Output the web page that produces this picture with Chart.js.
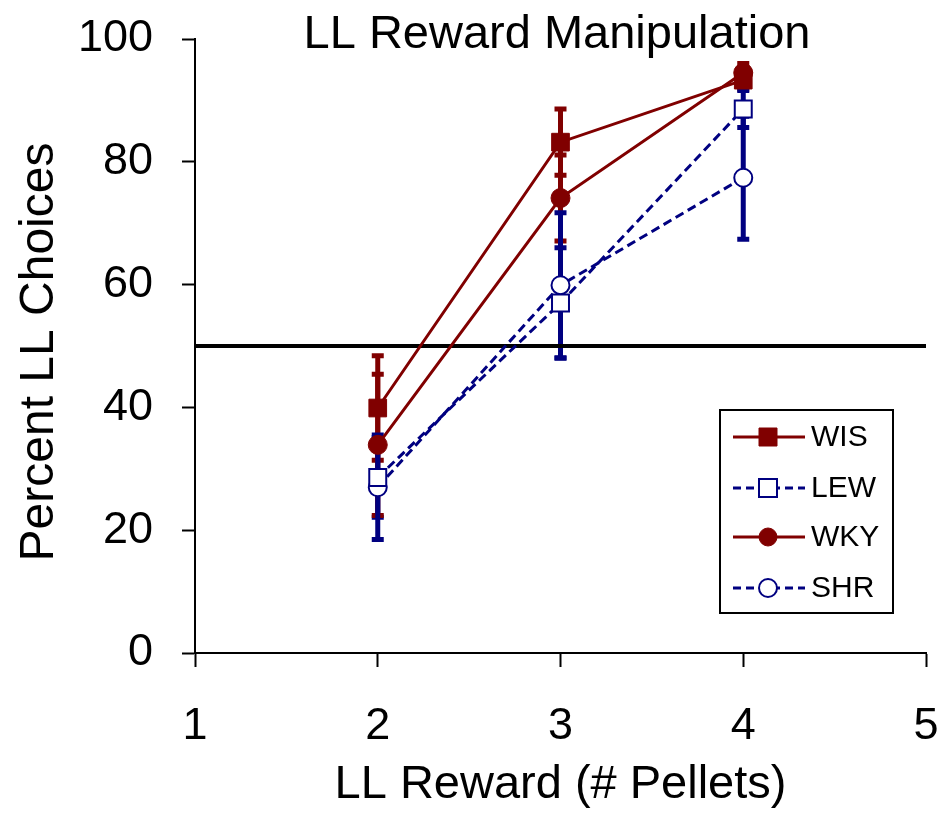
<!DOCTYPE html>
<html>
<head>
<meta charset="utf-8">
<script src="https://cdn.jsdelivr.net/npm/chart.js@4.4.0/dist/chart.umd.min.js"></script>
<style>
  html, body { margin: 0; padding: 0; background: #fff; }
  #wrap { width: 943px; height: 815px; }
</style>
</head>
<body>
<div id="wrap"><canvas id="chart"></canvas></div>
<script>
// ===== データ =====
const pellets = [2, 3, 4];
const xTicks = [1, 2, 3, 4, 5];
const yTicks = [0, 20, 40, 60, 80, 100];
const chanceLevel = 50;

const wisMean = [39.9, 83.2, 93.3];
const wisErr  = [8.5, 5.4, 1.5];
const lewMean = [28.6, 57.0, 88.6];
const lewErr  = [6.5, 9.0, 3.0];
const wkyMean = [33.9, 74.1, 94.5];
const wkyErr  = [11.5, 7.0, 1.5];
const shrMean = [27.0, 59.9, 77.4];
const shrErr  = [8.5, 11.8, 10.0];

const RED = '#800000';
const BLUE = '#000080';
const FONT = "'Liberation Sans', Arial, sans-serif";

const toPoints = arr => arr.map((v, i) => ({ x: pellets[i], y: v }));

const series = [
  { label: 'WIS', mean: wisMean, err: wisErr, color: RED,  dashed: false, style: 'rect',   filled: true,  r: 12.5 },
  { label: 'LEW', mean: lewMean, err: lewErr, color: BLUE, dashed: true,  style: 'rect',   filled: false, r: 12 },
  { label: 'WKY', mean: wkyMean, err: wkyErr, color: RED,  dashed: false, style: 'circle', filled: true,  r: 9.5 },
  { label: 'SHR', mean: shrMean, err: shrErr, color: BLUE, dashed: true,  style: 'circle', filled: false, r: 9 },
];

// ===== エラーバー =====
const errorBars = {
  id: 'errorBars',
  beforeDatasetsDraw(chart) {
    const { ctx, scales: { x, y } } = chart;
    ctx.save();
    ctx.lineCap = 'butt';
    series.forEach(s => {
      ctx.strokeStyle = s.color;
      ctx.lineWidth = 5;
      s.mean.forEach((m, i) => {
        const px = x.getPixelForValue(pellets[i]);
        const top = y.getPixelForValue(m + s.err[i]);
        const bot = y.getPixelForValue(m - s.err[i]);
        ctx.beginPath();
        ctx.moveTo(px, top); ctx.lineTo(px, bot);
        ctx.moveTo(px - 6, top); ctx.lineTo(px + 6, top);
        ctx.moveTo(px - 6, bot); ctx.lineTo(px + 6, bot);
        ctx.stroke();
      });
    });
    ctx.restore();
  }
};

// ===== タイトル・縦軸ラベル・凡例 =====
const overlay = {
  id: 'overlay',
  afterDraw(chart) {
    const { ctx } = chart;
    ctx.save();
    ctx.fillStyle = '#000';
    ctx.font = `47px ${FONT}`;
    ctx.textAlign = 'center';
    ctx.textBaseline = 'alphabetic';
    ctx.fillText('LL Reward Manipulation', 557, 48);

    // 縦軸タイトル
    ctx.save();
    ctx.translate(53, 352);
    ctx.rotate(-Math.PI / 2);
    ctx.font = `48px ${FONT}`;
    ctx.fillText('Percent LL Choices', 0, 0);
    ctx.restore();

    // 凡例
    ctx.lineWidth = 2;
    ctx.strokeStyle = '#000';
    ctx.strokeRect(720, 410, 173, 203);
    const rows = [437, 488, 537, 588];
    ctx.font = `30px ${FONT}`;
    ctx.textAlign = 'left';
    ctx.textBaseline = 'middle';
    series.forEach((s, i) => {
      const yy = rows[i];
      ctx.strokeStyle = s.color;
      ctx.lineWidth = 3;
      ctx.setLineDash(s.dashed ? [8, 5] : []);
      ctx.beginPath();
      ctx.moveTo(733, yy); ctx.lineTo(805, yy);
      ctx.stroke();
      ctx.setLineDash([]);
      ctx.lineWidth = s.filled ? 1 : 2;
      ctx.fillStyle = s.filled ? s.color : '#fff';
      ctx.beginPath();
      if (s.style === 'rect') {
        ctx.rect(759, yy - 9, 18, 18);
      } else {
        ctx.arc(768, yy, 9, 0, Math.PI * 2);
      }
      ctx.fill();
      ctx.stroke();
      ctx.fillStyle = '#000';
      ctx.fillText(s.label, 811, yy + 1);
    });
    ctx.restore();
  }
};

const datasets = series.map(s => ({
  label: s.label,
  data: toPoints(s.mean),
  borderColor: s.color,
  borderWidth: 3,
  borderDash: s.dashed ? [9, 5] : [],
  pointStyle: s.style,
  pointRadius: s.r,
  pointBackgroundColor: s.filled ? s.color : '#fff',
  pointBorderColor: s.color,
  pointBorderWidth: s.filled ? 1 : 2,
  tension: 0,
  order: 1,
}));

datasets.push({
  label: 'chance',
  data: [{ x: xTicks[0], y: chanceLevel }, { x: xTicks.at(-1), y: chanceLevel }],
  borderColor: '#000',
  borderWidth: 4,
  pointRadius: 0,
  order: 2,
  clip: false,
});

new Chart(document.getElementById('chart'), {
  type: 'line',
  data: { datasets },
  plugins: [errorBars, overlay],
  options: {
    responsive: true,
    maintainAspectRatio: false,
    animation: false,
    devicePixelRatio: 1,
    layout: { padding: { left: 0, right: 17, top: 39, bottom: 0 } },
    plugins: { legend: { display: false }, tooltip: { enabled: false }, title: { display: false } },
    scales: {
      x: {
        type: 'linear', min: 1, max: 5,
        afterBuildTicks: s => { s.ticks = xTicks.map(v => ({ value: v })); },
        afterFit: s => { s.height = 162; s.paddingLeft = 0; s.paddingRight = 0; },
        ticks: { color: '#000', font: { family: FONT, size: 45 }, padding: 33, maxRotation: 0 },
        grid: { drawOnChartArea: false, drawTicks: true, tickLength: 14, tickWidth: 2, tickColor: '#000' },
        border: { color: '#000', width: 2 },
        title: { display: true, text: 'LL Reward (# Pellets)', color: '#000', font: { family: FONT, size: 47 }, padding: { top: 0, bottom: 2 } },
      },
      y: {
        min: 0, max: 100,
        afterBuildTicks: s => { s.ticks = yTicks.map(v => ({ value: v })); },
        afterFit: s => { s.width = 195; s.paddingTop = 0; s.paddingBottom = 0; },
        ticks: { color: '#000', font: { family: FONT, size: 45 }, padding: 29 },
        grid: { drawOnChartArea: false, drawTicks: true, tickLength: 13, tickWidth: 2, tickColor: '#000' },
        border: { color: '#000', width: 2 },
      }
    }
  }
});
</script>
</body>
</html>
